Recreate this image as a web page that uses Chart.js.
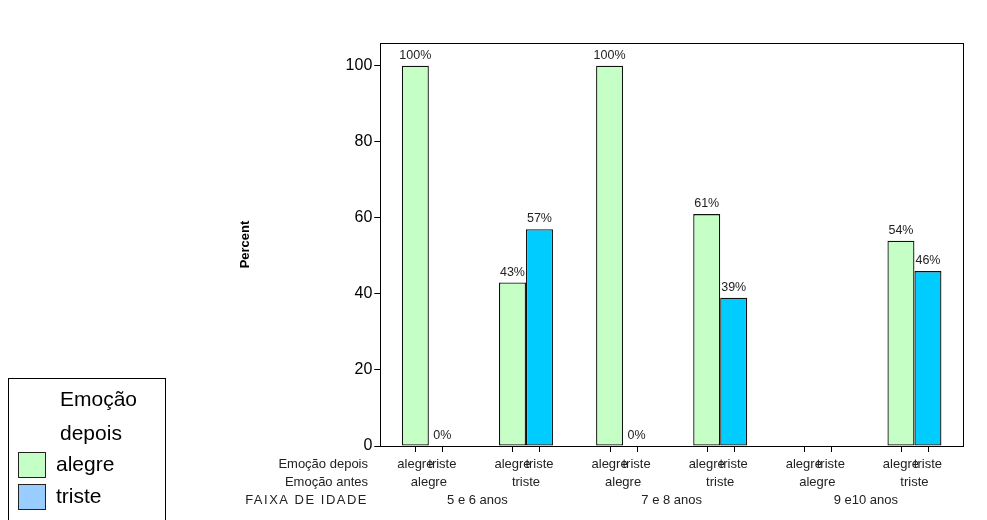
<!DOCTYPE html>
<html>
<head>
<meta charset="utf-8">
<script src="https://cdn.jsdelivr.net/npm/chart.js@4/dist/chart.umd.min.js"></script>
<style>
  html, body { margin: 0; padding: 0; background: #fff; }
  #wrap { width: 987px; height: 520px; position: relative; }
</style>
</head>
<body>
<div id="wrap"><canvas id="chart"></canvas></div>
<script>
// dados
const emocaoAntes = ["alegre", "triste", "alegre", "triste", "alegre", "triste"];
const faixaIdade = ["5 e 6 anos", "7 e 8 anos", "9 e10 anos"];
const seriesNames = ["alegre", "triste"];
const alegreValues = [100, 43, 100, 61, null, 54];
const tristeValues = [0, 57, 0, 39, null, 46];
const yTicks = [0, 20, 40, 60, 80, 100];

const barColors = ["#c6ffc6", "#00ccff"];
const legendColors = ["#c6ffc6", "#99ccff"];
const FONT = "'Liberation Sans', Arial, sans-serif";

/* ======================
   MOLDURA + ROTULOS
====================== */
const framePlugin = {
  id: "frame",
  afterDatasetsDraw(chart) {
    const { ctx, chartArea: a } = chart;
    ctx.save();
    ctx.strokeStyle = "#000";
    ctx.lineWidth = 1;
    ctx.strokeRect(Math.round(a.left) + 0.5, Math.round(a.top) + 0.5,
      Math.round(a.right - a.left), Math.round(a.bottom - a.top));

    // rotulos de percentagem
    ctx.font = "12.5px " + FONT;
    ctx.fillStyle = "#222";
    ctx.textAlign = "center";
    ctx.textBaseline = "bottom";
    chart.data.datasets.forEach((ds, i) => {
      const meta = chart.getDatasetMeta(i);
      meta.data.forEach((bar, j) => {
        const v = ds.data[j];
        if (v === null || v === undefined) return;
        ctx.fillText(Math.round(v) + "%", bar.x, bar.y - 4);
      });
    });
    ctx.restore();
  },
  afterDraw(chart) {
    const { ctx, chartArea: a, scales } = chart;
    const x = scales.x;
    const bottom = Math.round(a.bottom);
    ctx.save();
    ctx.strokeStyle = "#000";
    ctx.fillStyle = "#222";
    ctx.font = "13px " + FONT;
    ctx.textBaseline = "middle";

    const row1 = bottom + 18, row2 = bottom + 36, row3 = bottom + 54;
    ctx.textAlign = "right";
    ctx.fillText("Emoção depois", 368, row1);
    ctx.fillText("Emoção antes", 368, row2);
    ctx.save();
    ctx.letterSpacing = "1.5px";
    ctx.fillText("FAIXA DE IDADE", 368, row3);
    ctx.restore();

    ctx.textAlign = "center";
    const m0 = chart.getDatasetMeta(0);
    const w = m0.data[0].width;
    emocaoAntes.forEach((lab, j) => {
      const cx = x.getPixelForValue(j);
      const xs = [cx - w / 2, cx + w / 2];
      xs.forEach((px, k) => {
        const xx = Math.round(px) + 0.5;
        ctx.beginPath();
        ctx.moveTo(xx, bottom);
        ctx.lineTo(xx, bottom + 6);
        ctx.stroke();
        ctx.fillText(seriesNames[k], px, row1);
      });
      ctx.fillText(lab, cx, row2);
    });
    faixaIdade.forEach((lab, g) => {
      const cx = (x.getPixelForValue(g * 2) + x.getPixelForValue(g * 2 + 1)) / 2;
      ctx.fillText(lab, cx, row3);
    });
    ctx.restore();
  }
};

/* ======================
   LEGENDA
====================== */
const legendPlugin = {
  id: "boxLegend",
  afterDraw(chart) {
    const ctx = chart.ctx;
    ctx.save();
    ctx.strokeStyle = "#000";
    ctx.lineWidth = 1;
    ctx.strokeRect(8.5, 378.5, 157, 150);
    ctx.fillStyle = "#000";
    ctx.font = "21px " + FONT;
    ctx.textBaseline = "middle";
    ctx.textAlign = "left";
    ctx.fillText("Emoção", 60, 400);
    ctx.fillText("depois", 60, 434);
    seriesNames.forEach((name, i) => {
      const y = 465 + i * 32;
      ctx.fillStyle = legendColors[i];
      ctx.fillRect(18, y - 13, 28, 26);
      ctx.strokeStyle = "#222";
      ctx.strokeRect(18.5, y - 12.5, 27, 25);
      ctx.fillStyle = "#000";
      ctx.fillText(name, 56, y);
    });
    ctx.restore();
  }
};

new Chart(document.getElementById("chart"), {
  type: "bar",
  data: {
    labels: emocaoAntes,
    datasets: [
      {
        label: seriesNames[0],
        data: alegreValues,
        backgroundColor: barColors[0],
        borderColor: "#111",
        borderWidth: 1.3,
        borderSkipped: false,
      },
      {
        label: seriesNames[1],
        data: tristeValues,
        backgroundColor: barColors[1],
        borderColor: "#111",
        borderWidth: 1.3,
        borderSkipped: false,
      },
    ],
  },
  options: {
    responsive: true,
    maintainAspectRatio: false,
    animation: false,
    layout: { padding: { left: 230, right: 24, top: 43, bottom: 66 } },
    datasets: { bar: { categoryPercentage: 0.556, barPercentage: 1 } },
    plugins: {
      legend: { display: false },
      tooltip: { enabled: false },
    },
    scales: {
      x: {
        grid: { display: false },
        ticks: { display: false },
        border: { display: false },
      },
      y: {
        min: 0,
        max: 106,
        afterBuildTicks: (axis) => {
          axis.ticks = yTicks.map((v) => ({ value: v }));
        },
        grid: {
          drawOnChartArea: false,
          drawTicks: true,
          tickLength: 6,
          color: "#000",
        },
        border: { display: false },
        ticks: {
          color: "#000",
          padding: 2,
          font: { family: FONT, size: 16 },
        },
        title: {
          display: true,
          text: "Percent",
          color: "#000",
          font: { family: FONT, size: 13, weight: "bold" },
          padding: { top: 8, bottom: 90 },
        },
      },
    },
  },
  plugins: [framePlugin, legendPlugin],
});
</script>
</body>
</html>
